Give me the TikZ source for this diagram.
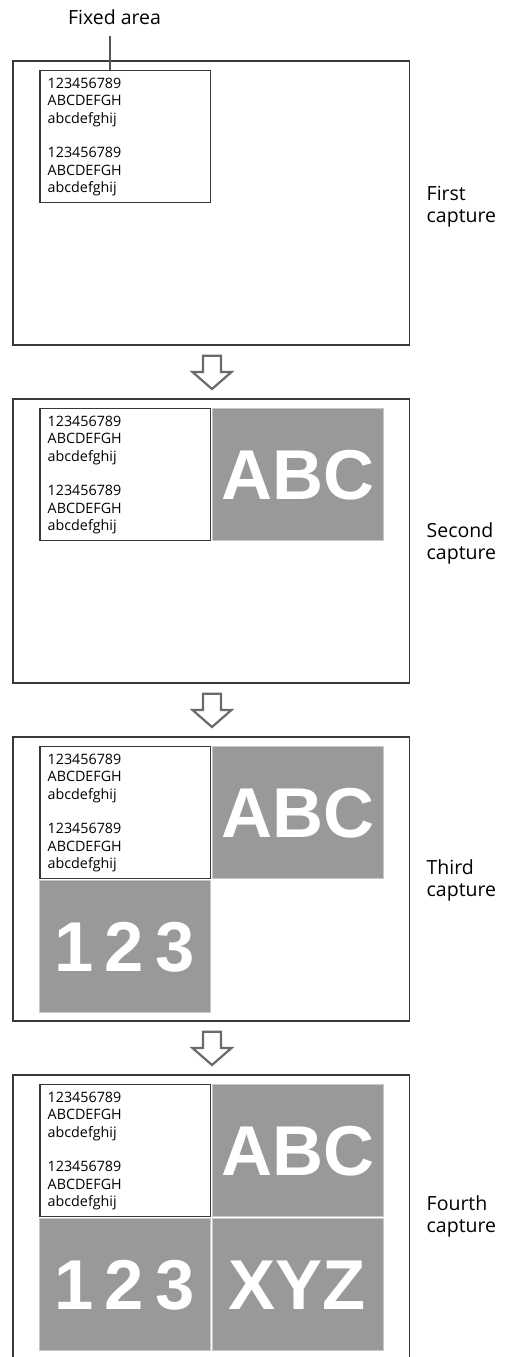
\documentclass[tikz,border=0pt]{standalone}
\usepackage{fontspec}
\setmainfont{Open Sans}
\newfontfamily\bigfont{Liberation Sans}
\newfontfamily\fixfont{Open Sans}[SizeFeatures={Size=14.3}]
\definecolor{framec}{HTML}{383838}
\definecolor{arrowc}{HTML}{6A6A6A}
\definecolor{tilec}{HTML}{999999}
\definecolor{tileedge}{HTML}{C8C8C8}
\definecolor{leadc}{HTML}{555555}
\tikzset{
  frame/.style={draw=framec, line width=1.3pt, minimum width=396.5pt, minimum height=284pt, inner sep=0pt},
  fixbox/.style={draw=framec, line width=1.3pt, fill=white, minimum width=170.5pt, minimum height=132pt, inner sep=0pt},
  tile/.style={fill=tilec, draw=tileedge, line width=0.8pt, minimum width=171pt, minimum height=132pt, inner sep=0pt},
  fixtext/.style={font=\fixfont\fontsize{14.3pt}{17pt}\selectfont, inner sep=0pt, anchor=base west},
  capl/.style={font=\fontsize{19.5pt}{22pt}\selectfont, inner sep=0pt},
  big/.style={font=\bigfont\bfseries\fontsize{70.6pt}{72pt}\selectfont, text=white, inner sep=0pt},
  blockarrow/.style={draw=arrowc, fill=white, line width=2.2pt, line join=miter}
}
\begin{document}
\begin{tikzpicture}[x=1pt,y=-1pt]
\useasboundingbox (0,0) rectangle (509,1357);
\clip (0,0) rectangle (509,1357);
% frames and fixed areas
\foreach \i/\T in {1/61,2/399,3/737,4/1075}{
  \node[frame] (frame\i) at (211.25,\T+142) {};
  \node[fixbox] (fix\i) at (125.25,\T+75.5) {};
  \foreach \j/\s/\dy in {1/123456789/18, 2/ABCDEFGH/35.3, 3/abcdefghij/52.6, 4/123456789/87.2, 5/ABCDEFGH/104.5, 6/abcdefghij/121.8}{
    \node[fixtext] (fix\i line\j) at (47.5,\T+9.5+\dy) {\s};
  }
}
% block arrows between captures
\foreach \k/\B in {1/345,2/683,3/1021}{
  \draw[blockarrow] (203,\B+10.7) -- (221,\B+10.7) -- (221,\B+27) -- (231.5,\B+27) -- (212,\B+44) -- (192.5,\B+27) -- (203,\B+27) -- cycle;
}
% tiles
\foreach \i/\T in {2/399,3/737,4/1075}{
  \node[tile] (abc\i) at (298.25,\T+75) {};
  \node[big] (abctext\i) at (298.25,\T+76.5) {ABC};
}
\foreach \i/\T in {3/737,4/1075}{
  \node[tile] (num\i) at (125.25,\T+209) {};
  \node[big] (numtext\i) at (124.5,\T+210) {1\hspace{11pt}2\hspace{11pt}3};
}
\node[tile] (xyz4) at (298.25,1075+209) {};
\node[big] (xyztext4) at (297,1075+210) {XYZ};
% fixed area label
\node[capl, anchor=base] (fixedlabel) at (114.5,24) {Fixed area};
\coordinate (leadtop) at (110,36);
\draw[leadc, line width=2pt] (leadtop) -- (leadtop |- fix1.north);
% capture labels
\node[capl, anchor=base west] (cap1a) at (426.5,200) {First};
\node[capl, anchor=base west] (cap1b) at (426.5,222) {capture};
\node[capl, anchor=base west] (cap2a) at (426.5,537) {Second};
\node[capl, anchor=base west] (cap2b) at (426.5,559) {capture};
\node[capl, anchor=base west] (cap3a) at (426.5,874) {Third};
\node[capl, anchor=base west] (cap3b) at (426.5,896) {capture};
\node[capl, anchor=base west] (cap4a) at (426.5,1210) {Fourth};
\node[capl, anchor=base west] (cap4b) at (426.5,1232) {capture};
\end{tikzpicture}
\end{document}
